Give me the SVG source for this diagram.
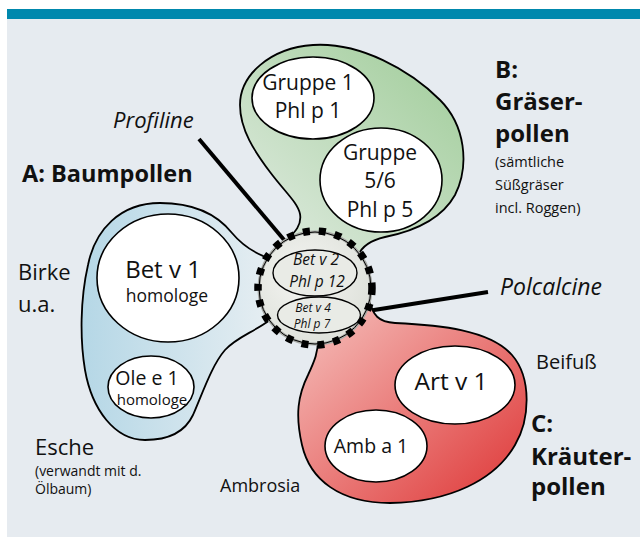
<svg xmlns="http://www.w3.org/2000/svg" width="640" height="537" viewBox="0 0 640 537">
<defs>
<linearGradient id="gBlue" x1="0" y1="0" x2="1" y2="0">
<stop offset="0" stop-color="#b5d7e6"/><stop offset="1" stop-color="#e6eef2"/>
</linearGradient>
<linearGradient id="gGreen" x1="0" y1="1" x2="1" y2="0">
<stop offset="0" stop-color="#e2ece3"/><stop offset="1" stop-color="#9fcc98"/>
</linearGradient>
<linearGradient id="gRed" x1="0" y1="0" x2="1" y2="1">
<stop offset="0" stop-color="#f6c4c0"/><stop offset="1" stop-color="#de3535"/>
</linearGradient>
<radialGradient id="gCore" cx="0.4" cy="0.4" r="0.7">
<stop offset="0" stop-color="#f4f5f2"/><stop offset="1" stop-color="#dcdfd8"/>
</radialGradient>
<style>
.t{font-family:"Open Sans","Noto Sans",sans-serif;fill:#111}
.b{font-weight:bold}
.i{font-style:italic}
.m{text-anchor:middle}
.blob{stroke:#000;stroke-width:1.8}
.el{fill:#fff;stroke:#000;stroke-width:1.6}
.ptr{stroke:#000;stroke-width:4;fill:none}
</style>
</defs>
<rect x="0" y="0" width="640" height="537" fill="#fff"/>
<rect x="7" y="19" width="633" height="518" fill="#e6ebf0"/>
<rect x="7" y="9" width="633" height="10" fill="#0088ad"/>

<g id="connectors">
<line class="ptr" x1="199" y1="139" x2="285" y2="241"/>
<line class="ptr" x1="355" y1="313" x2="488" y2="292"/>
</g>

<g id="A">
<path class="blob" fill="url(#gBlue)" d="M268,258 C252,252 242,245 232,233 C216,213 192,203 160,203 C120,203 95,230 88,265 C80,300 80,340 85,370 C92,410 115,440 145,440 C170,440 185,432 193,415 C203,392 212,365 225,350 C237,337 252,333 270,320 Z"/>
<ellipse class="el" cx="168" cy="278" rx="71" ry="64"/>
<text class="t m" x="163" y="278" font-size="24">Bet v 1</text>
<text class="t m" x="167" y="302" font-size="17.5">homologe</text>
<ellipse class="el" cx="151" cy="387" rx="43" ry="31"/>
<text class="t m" x="147" y="385" font-size="19.5">Ole e 1</text>
<text class="t m" x="152" y="405" font-size="15">homologe</text>
</g>

<g id="B">
<path class="blob" fill="url(#gGreen)" d="M287,240 C295,232 302,225 300,214 C298,203 285,192 270,172 C255,152 240,130 240,105 C240,75 270,48 313,45 C360,42 410,70 440,100 C465,125 470,165 455,195 C440,222 410,232 385,237 C372,240 362,245 358,256 Z"/>
<ellipse class="el" cx="313" cy="98" rx="61" ry="41"/>
<text class="t m" x="308" y="90" font-size="21">Gruppe 1</text>
<text class="t m" x="308" y="118" font-size="21">Phl p 1</text>
<ellipse class="el" cx="381" cy="180" rx="61" ry="52"/>
<text class="t m" x="380" y="160" font-size="21">Gruppe</text>
<text class="t m" x="380" y="188" font-size="21">5/6</text>
<text class="t m" x="380" y="217" font-size="21">Phl p 5</text>
</g>

<g id="C">
<path class="blob" fill="url(#gRed)" d="M369,300 C373,315 378,322 395,323 C440,325 490,330 512,355 C532,378 530,420 515,445 C495,480 450,502 390,503 C340,503 310,480 302,445 C295,415 298,395 308,375 C315,360 318,352 318,340 Z"/>
<ellipse class="el" cx="455" cy="385" rx="60" ry="39"/>
<text class="t m" x="451" y="390" font-size="24.5">Art v 1</text>
<ellipse class="el" cx="376" cy="446" rx="51" ry="36"/>
<text class="t m" x="371" y="453" font-size="19.5">Amb a 1</text>
</g>

<g id="core">
<circle cx="315" cy="288" r="56" fill="url(#gCore)" stroke="#a8aaa6" stroke-width="3"/>
<circle cx="315" cy="288" r="56" fill="none" stroke="#000" stroke-width="1"/>
<circle cx="315" cy="288" r="57" fill="none" stroke="#000" stroke-width="7.5" stroke-dasharray="7 9"/>
<ellipse cx="315" cy="273" rx="42" ry="23" fill="#e9ebe6" stroke="#000" stroke-width="1.4"/>
<text class="t m i" x="316" y="265" font-size="15.5">Bet v 2</text>
<text class="t m i" x="317" y="287" font-size="15.5">Phl p 12</text>
<ellipse cx="319" cy="315" rx="41.5" ry="18" fill="#e9ebe6" stroke="#000" stroke-width="1.4"/>
<text class="t m i" x="313" y="312" font-size="12">Bet v 4</text>
<text class="t m i" x="312" y="328" font-size="12">Phl p 7</text>
</g>

<g id="labels">
<text class="t i" x="113" y="128" font-size="22">Profiline</text>
<text class="t b" x="22" y="182" font-size="23.5">A: Baumpollen</text>
<text class="t" x="18" y="280" font-size="22">Birke</text>
<text class="t" x="18" y="312" font-size="22">u.a.</text>
<text class="t" x="35" y="455" font-size="22">Esche</text>
<text class="t" x="35" y="476" font-size="14">(verwandt mit d.</text>
<text class="t" x="35" y="494" font-size="14">Ölbaum)</text>
<text class="t" x="220" y="492" font-size="18">Ambrosia</text>
<text class="t b" x="495" y="78" font-size="24">B:</text>
<text class="t b" x="495" y="110" font-size="24">Gräser-</text>
<text class="t b" x="495" y="142" font-size="24">pollen</text>
<text class="t" x="495" y="167" font-size="14.5">(sämtliche</text>
<text class="t" x="495" y="190" font-size="14.5">Süßgräser</text>
<text class="t" x="495" y="213" font-size="14.5">incl. Roggen)</text>
<text class="t i" x="500" y="295" font-size="23">Polcalcine</text>
<text class="t" x="536" y="369" font-size="20">Beifuß</text>
<text class="t b" x="531" y="432" font-size="24">C:</text>
<text class="t b" x="531" y="465" font-size="24">Kräuter-</text>
<text class="t b" x="531" y="495" font-size="24">pollen</text>
</g>
</svg>
